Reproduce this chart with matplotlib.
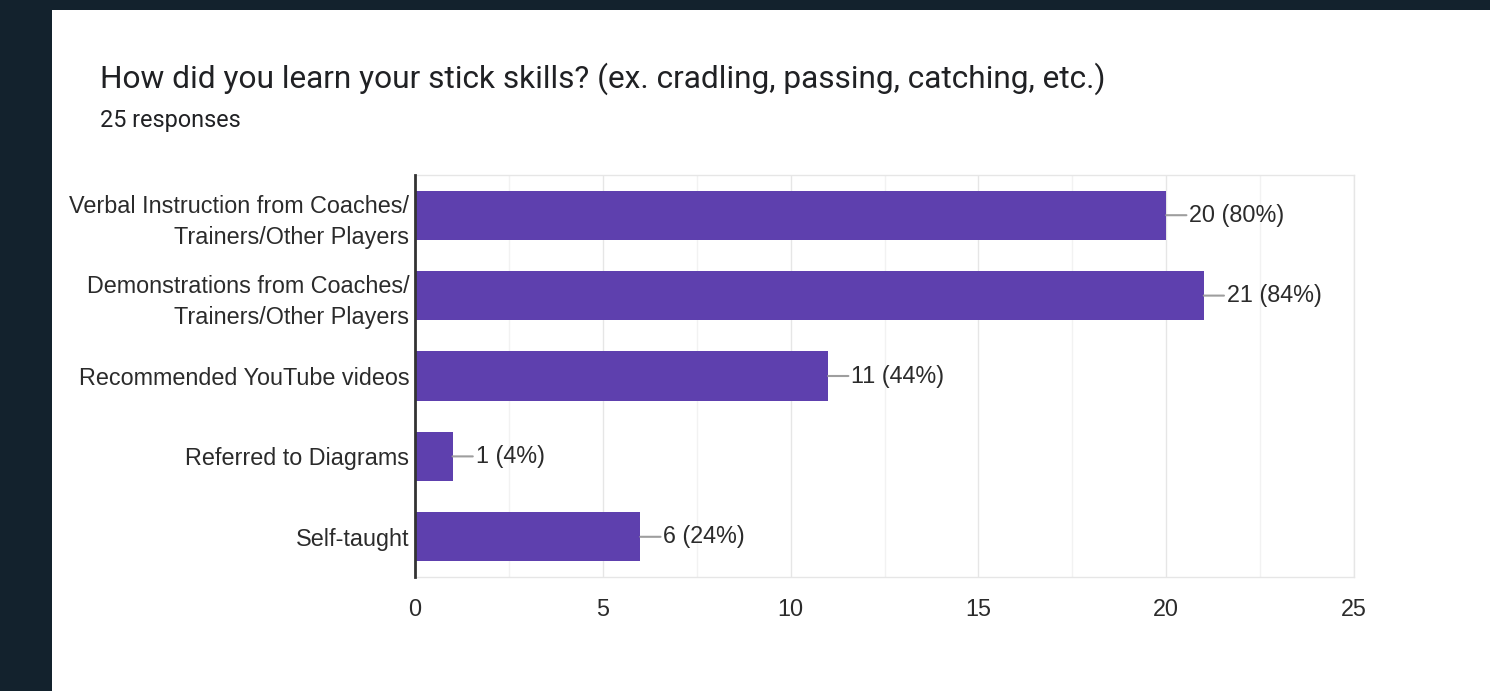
import matplotlib
matplotlib.use("Agg")
import matplotlib.pyplot as plt
from matplotlib.patches import Rectangle
from matplotlib.ticker import MultipleLocator

# survey answers (Google Forms style summary)
categories = [
    "Verbal Instruction from Coaches/\nTrainers/Other Players",
    "Demonstrations from Coaches/\nTrainers/Other Players",
    "Recommended YouTube videos",
    "Referred to Diagrams",
    "Self-taught",
]
counts = [20, 21, 11, 1, 6]
total_responses = 25
x_ticks = [0, 5, 10, 15, 20, 25]

title = "How did you learn your stick skills? (ex. cradling, passing, catching, etc.)"
subtitle = f"{total_responses} responses"

bar_color = "#5e40ae"
page_bg = "#13222d"
text_color = "#2b2b2b"

fig = plt.figure(figsize=(14.9, 6.91), dpi=100)
fig.patch.set_facecolor(page_bg)
# white card behind the chart
fig.patches.append(Rectangle((52 / 1490, 0), 1 - 52 / 1490, 681 / 691,
                             transform=fig.transFigure, facecolor="white",
                             edgecolor="none", zorder=-1))

fig.text(100 / 1490, 1 - 79 / 691, title, fontsize=22.8, family="Roboto",
         color="#202124", va="center", ha="left")
fig.text(100 / 1490, 1 - 121 / 691, subtitle, fontsize=16.8, family="Roboto",
         color="#202124", va="center", ha="left")

ax = fig.add_axes([415 / 1490, 1 - 577 / 691, (1354 - 415) / 1490, (577 - 175) / 691])
ax.set_zorder(2)
ax.set_facecolor("white")

ypos = list(range(len(categories)))
ax.barh(ypos, counts, height=0.61, color=bar_color, zorder=3)
ax.set_ylim(len(categories) - 0.5, -0.5)
ax.set_xlim(0, total_responses)

ax.set_yticks(ypos)
ax.set_yticklabels(categories, family="Liberation Sans", fontsize=16.8,
                   color=text_color, linespacing=1.45)
ax.set_xticks(x_ticks)
ax.set_xticklabels([str(t) for t in x_ticks], family="Liberation Sans",
                   fontsize=16.8, color=text_color)
ax.xaxis.set_minor_locator(MultipleLocator(2.5))
ax.tick_params(axis="y", length=0, pad=4)
ax.tick_params(axis="x", which="both", length=0, pad=15)

ax.grid(axis="x", which="major", color="#e6e6e6", linewidth=1, zorder=0)
ax.grid(axis="x", which="minor", color="#f2f2f2", linewidth=1, zorder=0)

for side in ["top", "right", "bottom"]:
    ax.spines[side].set_color("#e6e6e6")
    ax.spines[side].set_linewidth(1)
ax.spines["left"].set_color("#333333")
ax.spines["left"].set_linewidth(2)
ax.spines["left"].set_zorder(4)

# value labels with short leader lines
for y, c in zip(ypos, counts):
    pct = round(100 * c / total_responses)
    ax.annotate(f"{c} ({pct}%)", xy=(c, y), xytext=(23, 0),
                textcoords="offset pixels", ha="left", va="center",
                family="Liberation Sans", fontsize=16.8, color=text_color,
                arrowprops=dict(arrowstyle="-", color="#9e9e9e", lw=1.5,
                                shrinkA=0, shrinkB=0, relpos=(0, 0.5)))

fig.savefig("out.png", dpi=100, facecolor=fig.get_facecolor())
